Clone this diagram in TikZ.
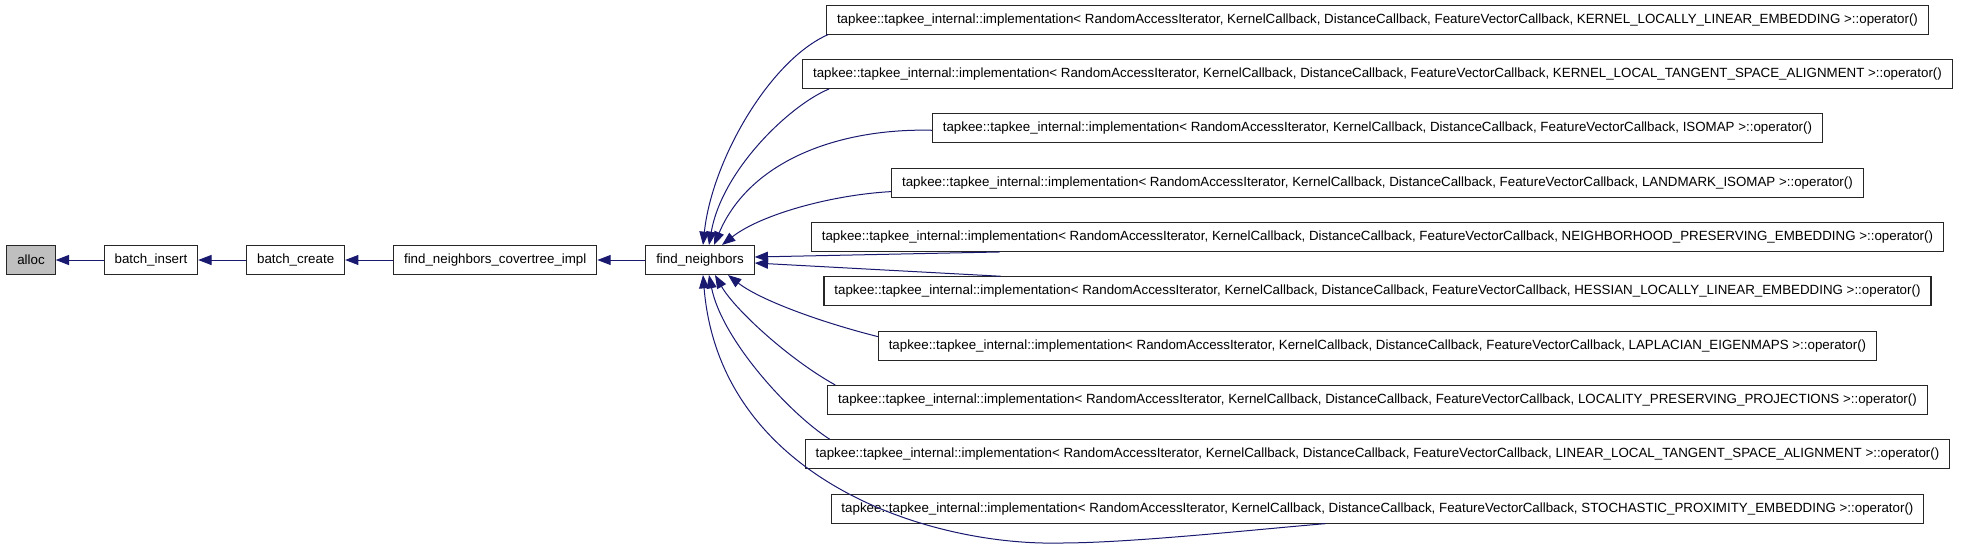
\documentclass[tikz,border=0pt]{standalone}
\usepackage{fontspec}
\setmainfont{Liberation Sans}
\usetikzlibrary{positioning,arrows.meta,calc}
\definecolor{edgeblue}{RGB}{25,25,112}
\definecolor{allocgray}{RGB}{191,191,191}
\newcommand{\implop}[1]{tapkee::tapkee\_internal::implementation< RandomAccessIterator, KernelCallback, DistanceCallback, FeatureVectorCallback, #1 >::operator()}
\tikzset{
  fnbox/.style={draw=black!85, line width=0.8pt, fill=#1, minimum height=21.75pt, inner xsep=7.8pt, inner ysep=0pt, font=\fontsize{10}{12}\selectfont},
  fnbox/.default=white,
  call/.style={-{Triangle[length=10pt,width=7.5pt]}, line width=0.75pt, draw=edgeblue}
}

\begin{document}
\begin{tikzpicture}[x=0.75pt, y=-0.75pt, node distance=36pt]
    \useasboundingbox (0,0) rectangle (1965,550);
    % chain of callers on the left
    \node[fnbox] (fn) at (700,260) {find\_neighbors};
    \node[fnbox, left=of fn] (cov) {find\_neighbors\_covertree\_impl};
    \node[fnbox, left=of cov] (bcreate) {batch\_create};
    \node[fnbox, left=of bcreate] (binsert) {batch\_insert};
    \node[fnbox=allocgray, left=of binsert] (alloc) {alloc};
    % implementations on the right
    \node[fnbox] (nb1) at (1377.5,19.6) {\implop{KERNEL\_LOCALLY\_LINEAR\_EMBEDDING}};
    \node[fnbox, below=18.2pt of nb1] (nb2) {\implop{KERNEL\_LOCAL\_TANGENT\_SPACE\_ALIGNMENT}};
    \node[fnbox, below=18.2pt of nb2] (nb3) {\implop{ISOMAP}};
    \node[fnbox, below=18.2pt of nb3] (nb4) {\implop{LANDMARK\_ISOMAP}};
    \node[fnbox, below=18.2pt of nb4] (nb5) {\implop{NEIGHBORHOOD\_PRESERVING\_EMBEDDING}};
    \node[fnbox, below=18.2pt of nb5] (nb6) {\implop{HESSIAN\_LOCALLY\_LINEAR\_EMBEDDING}};
    \node[fnbox, below=18.2pt of nb6] (nb7) {\implop{LAPLACIAN\_EIGENMAPS}};
    \node[fnbox, below=18.2pt of nb7] (nb8) {\implop{LOCALITY\_PRESERVING\_PROJECTIONS}};
    \node[fnbox, below=18.2pt of nb8] (nb9) {\implop{LINEAR\_LOCAL\_TANGENT\_SPACE\_ALIGNMENT}};
    \node[fnbox, below=18.2pt of nb9] (nb10) {\implop{STOCHASTIC\_PROXIMITY\_EMBEDDING}};
    % calls
    \draw[call] (binsert) -- (alloc);
    \draw[call] (bcreate) -- (binsert);
    \draw[call] (cov) -- (bcreate);
    \draw[call] (fn) -- (cov);
    \draw[call] ($(nb1.south west)+(2,0)$) .. controls (770,60) and (712,160) .. ($(fn.north)+(3,0)$);
    \draw[call] ($(nb2.south west)+(27,0)$) .. controls (790,105) and (722,170) .. ($(fn.north)+(9,0)$);
    \draw[call] ($(nb3.west)+(0,2)$) .. controls (840,128) and (750,160) .. ($(fn.north)+(14,0)$);
    \draw[call] ($(nb4.west)+(0,9)$) .. controls (830,195) and (760,215) .. ($(fn.north)+(22,0)$);
    \draw[call] ($(nb5.south west)+(189,0)$) -- ($(fn.east)+(0,-3)$);
    \draw[call] ($(nb6.north west)+(177,0)$) -- ($(fn.east)+(0,3)$);
    \draw[call] ($(nb7.west)+(0,-9)$) .. controls (820,322) and (760,300) .. ($(fn.south)+(28,0)$);
    \draw[call] ($(nb8.north west)+(8,0)$) .. controls (790,360) and (735,310) .. ($(fn.south)+(15,0)$);
    \draw[call] ($(nb9.north west)+(25,0)$) .. controls (790,414) and (722,340) .. ($(fn.south)+(9,0)$);
    \draw[call] ($(nb10.south west)+(495,0)$) .. controls (1250,530) and (1130,543) .. (1060,543)
      .. controls (930,546) and (720,480) .. ($(fn.south)+(3,0)$);
\end{tikzpicture}
\end{document}
